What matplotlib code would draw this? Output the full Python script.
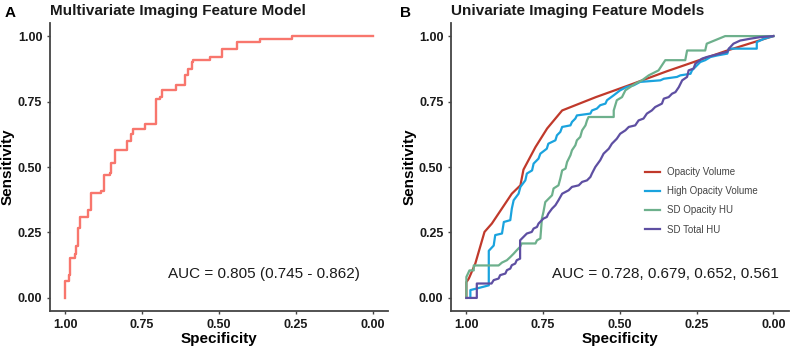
import numpy as np
import matplotlib
matplotlib.use("Agg")
import matplotlib.pyplot as plt

plt.rcParams['font.family'] = ['Liberation Sans', 'DejaVu Sans']

# panel A - multivariate model ROC (step points: spec, sens)
multi_spec = [1.0, 1.0, .989, .984, .97, .964, .959, .953, .926, .918, .883, .874, .855, .85, .84, .837,
              .80, .785, .78, .741, .706, .693, .687, .639, .61, .60, .589, .584, .53, .491, .442, .367, .263, 0.0]
multi_sens = [0.0, .064, .087, .152, .166, .197, .266, .31, .335, .40, .41, .468, .476, .514, .526, .564,
              .60, .627, .647, .666, .758, .767, .793, .812, .85, .875, .90, .91, .922, .951, .976, .987, 1.0, 1.0]
multi_auc = "AUC = 0.805 (0.745 - 0.862)"

# panel B - univariate models
opvol_spec = [1.0, 1.0, .992, .971, .941, .917, .852, .824, .814, .775, .737, .688, .578, .471, .346, .15, 0.0]
opvol_sens = [0.0, .06, .074, .131, .252, .284, .398, .43, .49, .576, .647, .716, .767, .812, .866, .945, 1.0]

hiop_spec = [.987, .987, .966, .927, .927, .911, .906, .884, .878, .857, .852, .846, .83, .824, .808, .803,
             .786, .781, .765, .759, .738, .733, .71, .705, .694, .688, .661, .656, .645, .64, .596, .591,
             .575, .564, .547, .542, .52, .499, .477, .455, .434, .368, .357, .314, .303, .27, .265, .249,
             .238, .222, .205, .183, .15, .145, .054, .054, .03, 0.0]
hiop_sens = [0.0, .03, .036, .048, .18, .20, .24, .246, .29, .297, .341, .373, .398, .424, .449, .475,
             .487, .513, .532, .551, .57, .589, .602, .621, .634, .653, .659, .672, .685, .697, .704, .716,
             .723, .736, .742, .755, .774, .793, .806, .812, .825, .831, .837, .844, .85, .856, .869, .888,
             .901, .908, .92, .926, .933, .952, .952, .977, .99, 1.0]

sdop_spec = [1.0, 1.0, .99, .976, .976, .895, .884, .868, .857, .846, .836, .825, .82, .775, .77, .759,
             .754, .749, .743, .732, .721, .716, .70, .694, .688, .677, .672, .661, .656, .645, .64, .629,
             .623, .612, .607, .602, .52, .52, .51, .493, .482, .45, .428, .406, .374, .352, .287, .281,
             .222, .217, .157, 0.0]
sdop_sens = [0.0, .08, .105, .105, .124, .124, .135, .144, .156, .169, .182, .195, .208, .208, .22, .227,
             .303, .328, .366, .379, .392, .418, .43, .456, .487, .494, .519, .545, .564, .583, .602, .615,
             .64, .659, .678, .691, .691, .716, .755, .767, .793, .818, .831, .85, .869, .908, .908, .945,
             .945, .971, 1.0, 1.0]

sdtot_spec = [1.0, .966, .966, .918, .911, .895, .89, .873, .868, .857, .852, .841, .836, .825, .825, .814,
              .803, .787, .781, .77, .765, .749, .738, .733, .721, .71, .70, .688, .667, .656, .634, .623,
              .607, .596, .591, .58, .564, .553, .536, .526, .51, .499, .482, .471, .45, .439, .423, .412,
              .396, .385, .363, .357, .341, .33, .319, .308, .297, .281, .276, .26, .254, .232, .217, .20,
              .183, .15, .145, .13, .108, .075, .043, 0.0]
sdtot_sens = [0.0, 0.0, .055, .055, .068, .074, .087, .093, .106, .112, .125, .131, .144, .15, .22, .233,
              .246, .252, .265, .271, .284, .303, .309, .322, .341, .354, .373, .398, .411, .424, .43, .443,
              .449, .462, .475, .50, .526, .551, .57, .589, .608, .627, .64, .653, .659, .678, .685, .704,
              .716, .729, .742, .761, .767, .78, .786, .805, .831, .844, .869, .876, .895, .914, .92, .925,
              .93, .94, .952, .971, .983, .99, .996, 1.0]

uni_labels = ["Opacity Volume", "High Opacity Volume", "SD Opacity HU", "SD Total HU"]
uni_colors = ['#C0392B', '#1AA3DE', '#6DB08C', '#5E4FA2']
uni_auc = "AUC = 0.728, 0.679, 0.652, 0.561"

ticks = [1.0, 0.75, 0.5, 0.25, 0.0]
ticklabels = ["1.00", "0.75", "0.50", "0.25", "0.00"]


def style_axes(ax, title):
    ax.set_xlim(1.05, -0.05)
    ax.set_ylim(-0.05, 1.05)
    ax.set_xticks(ticks)
    ax.set_xticklabels(ticklabels)
    ax.set_yticks(ticks[::-1])
    ax.set_yticklabels(ticklabels[::-1])
    for s in ['top', 'right']:
        ax.spines[s].set_visible(False)
    for s in ['left', 'bottom']:
        ax.spines[s].set_color('#444444')
        ax.spines[s].set_linewidth(1.3)
    ax.tick_params(length=2.5, width=1, color='#444444', pad=3, labelsize=9, labelcolor='#1a1a1a')
    for lab in ax.get_xticklabels() + ax.get_yticklabels():
        lab.set_fontweight('bold')
    ax.set_xlabel("Specificity", fontsize=11, fontweight='bold', labelpad=1)
    ax.set_ylabel("Sensitivity", fontsize=11, fontweight='bold', labelpad=2)
    ax.set_title(title, fontsize=11, fontweight='bold', loc='left', pad=5.5, color='#1a1a1a')


fig = plt.figure(figsize=(7.91, 3.5), dpi=100)
axA = fig.add_axes([0.0632, 0.1114, 0.4273, 0.8229])
axB = fig.add_axes([0.5702, 0.1114, 0.4269, 0.8229])

axA.plot(multi_spec, multi_sens, drawstyle='steps-post', color='#F8766D', lw=1.7)
axA.text(0.666, 0.09, multi_auc, fontsize=11, va='center', ha='left', color='#1a1a1a')
style_axes(axA, "Multivariate Imaging Feature Model")

curves = [(opvol_spec, opvol_sens), (hiop_spec, hiop_sens), (sdop_spec, sdop_sens), (sdtot_spec, sdtot_sens)]
for (sx, sy), lab, col in zip(curves, uni_labels, uni_colors):
    axB.plot(sx, sy, color=col, lw=1.6, label=lab)
axB.text(0.721, 0.093, uni_auc, fontsize=11, va='center', ha='left', color='#1a1a1a')
style_axes(axB, "Univariate Imaging Feature Models")
axB.legend(loc='upper left', bbox_to_anchor=(0.574, 0.5), frameon=False, fontsize=7,
           borderpad=0, borderaxespad=0, handlelength=1.55, handletextpad=0.7,
           labelspacing=0.95, labelcolor='#444444')

fig.text(0.006, 0.962, "A", fontsize=11, fontweight='bold', va='center', ha='left')
fig.text(0.506, 0.962, "B", fontsize=11, fontweight='bold', va='center', ha='left')

fig.savefig("out.png", dpi=100)
